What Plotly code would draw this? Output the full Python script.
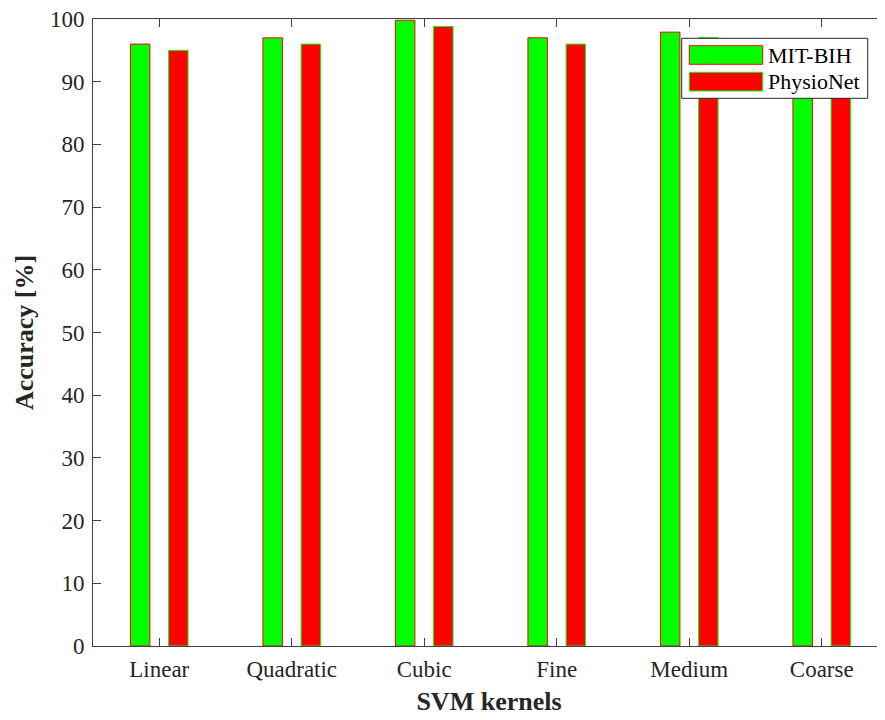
import plotly.graph_objects as go

categories = ["Linear", "Quadratic", "Cubic", "Fine", "Medium", "Coarse"]
mit_bih = [96.0, 97.0, 99.8, 97.0, 97.9, 96.0]
physionet = [95.0, 96.0, 98.8, 96.0, 97.0, 95.0]
series_names = ["MIT-BIH", "PhysioNet"]
y_ticks = list(range(0, 101, 10))

positions = list(range(1, len(categories) + 1))
FONT = "Liberation Serif, Times New Roman, serif"
AX = "#404040"
TXT = "#262626"
GREEN = "#00FF00"
RED = "#FF0000"

# page has an 8px body margin; plot area in page pixels: x 93..885, y 19..646
BODY = 8
PL, PR, PT, PB = 93, 885, 19, 646
W, H = 885 - BODY, 720 - BODY


def px(x):
    return (x - PL) / (PR - PL)


def py(y):
    return (PB - y) / (PB - PT)


fig = go.Figure()
fig.add_trace(go.Bar(
    x=positions, y=mit_bih, name=series_names[0],
    width=0.147, offset=-0.2175,
    marker=dict(color=GREEN, line=dict(color=RED, width=1)),
))
fig.add_trace(go.Bar(
    x=positions, y=physionet, name=series_names[1],
    width=0.147, offset=0.0705,
    marker=dict(color=RED, line=dict(color=GREEN, width=1)),
))

# legend drawn as layout shapes (large MATLAB-style swatches)
shapes = [
    dict(type="rect", xref="paper", yref="paper", layer="above",
         x0=px(681.7), x1=px(867.7), y0=py(98.3), y1=py(38.3),
         fillcolor="white", line=dict(color=TXT, width=1)),
    dict(type="rect", xref="paper", yref="paper", layer="above",
         x0=px(689.3), x1=px(762.7), y0=py(64.3), y1=py(45.7),
         fillcolor=GREEN, line=dict(color=RED, width=1)),
    dict(type="rect", xref="paper", yref="paper", layer="above",
         x0=px(689.3), x1=px(762.7), y0=py(91.0), y1=py(72.3),
         fillcolor=RED, line=dict(color=GREEN, width=1)),
]
annotations = [
    dict(xref="paper", yref="paper", x=px(766), y=py(55.5), text=series_names[0],
         showarrow=False, xanchor="left", yanchor="middle",
         font=dict(family=FONT, size=22, color="black")),
    dict(xref="paper", yref="paper", x=px(766), y=py(82.0), text=series_names[1],
         showarrow=False, xanchor="left", yanchor="middle",
         font=dict(family=FONT, size=22, color="black")),
]

fig.update_layout(
    width=W, height=H,
    margin=dict(l=PL - BODY, r=0, t=PT - BODY, b=H - (PB - BODY)),
    paper_bgcolor="white", plot_bgcolor="white",
    barmode="overlay",
    font=dict(family=FONT, color=TXT, size=23),
    showlegend=False,
    shapes=shapes,
    annotations=annotations,
    xaxis=dict(
        range=[0.5, 0.5 + (PR - PL) / 132.5],
        tickmode="array", tickvals=positions, ticktext=categories,
        ticks="inside", ticklen=8, tickcolor=AX,
        showline=True, linecolor=AX, linewidth=1, mirror="ticks",
        showgrid=False, zeroline=False,
        tickfont=dict(family=FONT, size=23, color=TXT),
        ticklabelstandoff=2,
        title=dict(text="<b>SVM kernels</b>", font=dict(family=FONT, size=26, color=TXT), standoff=11),
        automargin=False,
    ),
    yaxis=dict(
        range=[0, 100],
        tickmode="array", tickvals=y_ticks,
        ticks="inside", ticklen=8, tickcolor=AX,
        showline=True, linecolor=AX, linewidth=1, mirror="ticks",
        showgrid=False, zeroline=False,
        ticklabelstandoff=3,
        ticklabeloverflow="allow",
        tickfont=dict(family=FONT, size=23, color=TXT),
        title=dict(text="<b>Accuracy [%]</b>", font=dict(family=FONT, size=26, color=TXT), standoff=8),
        automargin=False,
    ),
)

fig.write_html("out.html")
